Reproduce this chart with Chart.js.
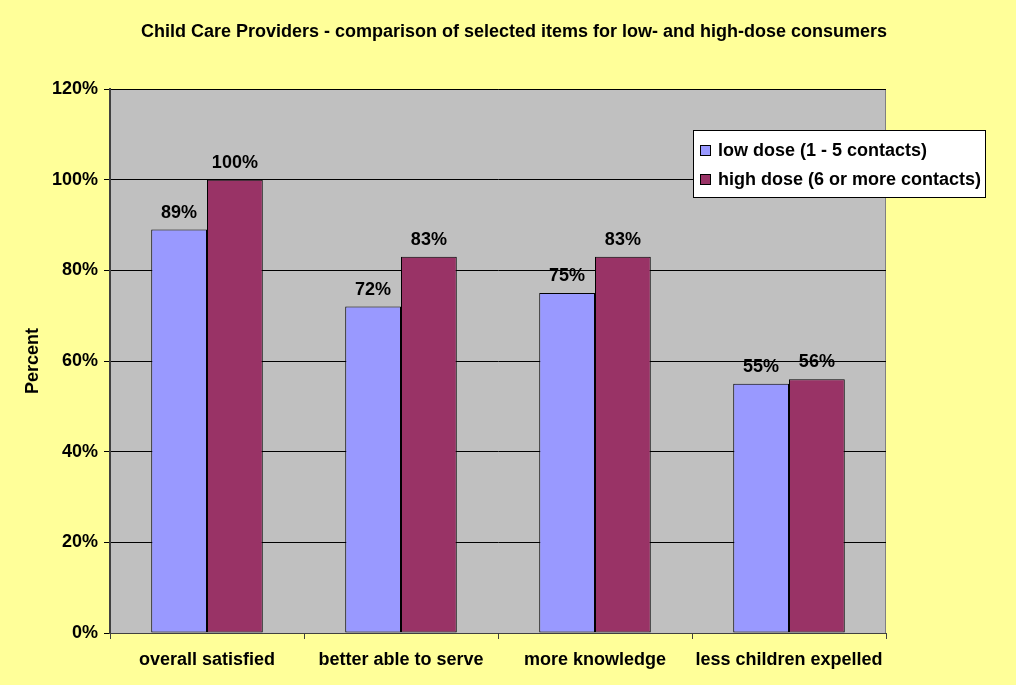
<!DOCTYPE html>
<html>
<head>
<meta charset="utf-8">
<script src="https://cdn.jsdelivr.net/npm/chart.js@4"></script>
<style>
  html, body { margin: 0; padding: 0; background: #FFFF99; }
  #wrap { width: 1016px; height: 685px; }
</style>
</head>
<body>
<div id="wrap"><canvas id="grafico" width="1016" height="685"></canvas></div>
<script>
// datos del gráfico
const categorias = ['overall satisfied', 'better able to serve', 'more knowledge', 'less children expelled'];
const dosisBaja = [89, 72, 75, 55];
const dosisAlta = [100, 83, 83, 56];
const etiquetas = ['low dose (1 - 5 contacts)', 'high dose (6 or more contacts)'];
const colores = ['#9999FF', '#993366'];
const titulo = 'Child Care Providers - comparison of selected items for low- and high-dose consumers';

const fuente = 'Arial, "Liberation Sans", sans-serif';

// fondo gris del área de trazado + título centrado en todo el lienzo
const fondoArea = {
  id: 'fondoArea',
  beforeDraw(chart) {
    const { ctx, chartArea: a } = chart;
    ctx.save();
    ctx.fillStyle = '#C0C0C0';
    ctx.fillRect(a.left, a.top, a.right - a.left, a.bottom - a.top);
    ctx.strokeStyle = '#808080';
    ctx.lineWidth = 1;
    ctx.strokeRect(a.left + 0.5, a.top + 0.5, a.right - a.left - 1, a.bottom - a.top);
    ctx.font = 'bold 18px ' + fuente;
    ctx.fillStyle = '#000';
    ctx.textAlign = 'center';
    ctx.textBaseline = 'middle';
    ctx.fillText(titulo, 514, 32);
    ctx.restore();
  }
};

// etiquetas de valor encima de cada barra
const valores = {
  id: 'valores',
  afterDatasetsDraw(chart) {
    const ctx = chart.ctx;
    ctx.save();
    ctx.font = 'bold 18px ' + fuente;
    ctx.fillStyle = '#000';
    ctx.textAlign = 'center';
    ctx.textBaseline = 'alphabetic';
    chart.data.datasets.forEach((ds, i) => {
      chart.getDatasetMeta(i).data.forEach((bar, j) => {
        ctx.fillText(ds.data[j] + '%', bar.x, bar.y - 12);
      });
    });
    ctx.restore();
  }
};

// leyenda con recuadro blanco
const leyenda = {
  id: 'leyenda',
  afterDraw(chart) {
    const ctx = chart.ctx;
    const x = 693, y = 130, w = 292, h = 67;
    ctx.save();
    ctx.fillStyle = '#fff';
    ctx.fillRect(x, y, w, h);
    ctx.strokeStyle = '#000';
    ctx.lineWidth = 1;
    ctx.strokeRect(x + 0.5, y + 0.5, w, h);
    ctx.font = 'bold 18px ' + fuente;
    ctx.textBaseline = 'middle';
    chart.data.datasets.forEach((ds, i) => {
      const cy = y + 20 + i * 29;
      ctx.fillStyle = ds.backgroundColor;
      ctx.fillRect(x + 7, cy - 5, 10, 10);
      ctx.strokeRect(x + 7.5, cy - 4.5, 10, 10);
      ctx.fillStyle = '#000';
      ctx.fillText(ds.label, x + 25, cy + 1);
    });
    ctx.restore();
  }
};

new Chart(document.getElementById('grafico'), {
  type: 'bar',
  data: {
    labels: categorias,
    datasets: [
      { label: etiquetas[0], data: dosisBaja, backgroundColor: colores[0], borderColor: '#000', borderWidth: 1, borderSkipped: false },
      { label: etiquetas[1], data: dosisAlta, backgroundColor: colores[1], borderColor: '#000', borderWidth: 1, borderSkipped: false }
    ]
  },
  options: {
    responsive: false,
    animation: false,
    layout: { padding: { left: 0, right: 130, top: 89, bottom: 0 } },
    datasets: { bar: { categoryPercentage: 0.575, barPercentage: 1 } },
    plugins: {
      legend: { display: false },
      tooltip: { enabled: false },
      title: { display: false }
    },
    scales: {
      x: {
        afterFit: s => { s.height = 52; },
        grid: { offset: true, drawOnChartArea: false, drawTicks: true, tickLength: 6, color: '#404040' },
        border: { color: '#404040', width: 1 },
        ticks: { color: '#000', font: { family: fuente, size: 18, weight: 'bold' }, padding: 10, maxRotation: 0 }
      },
      y: {
        min: 0,
        max: 120,
        afterFit: s => { s.width = 110; },
        grid: { color: '#000', tickLength: 6 },
        border: { color: '#404040', width: 2 },
        ticks: {
          stepSize: 20,
          color: '#000',
          padding: 6,
          font: { family: fuente, size: 18, weight: 'bold' },
          callback: v => v + '%'
        },
        title: {
          display: true,
          text: 'Percent',
          color: '#000',
          font: { family: fuente, size: 18, weight: 'bold' },
          padding: { top: 22, bottom: 0 }
        }
      }
    }
  },
  plugins: [fondoArea, valores, leyenda]
});
</script>
</body>
</html>
